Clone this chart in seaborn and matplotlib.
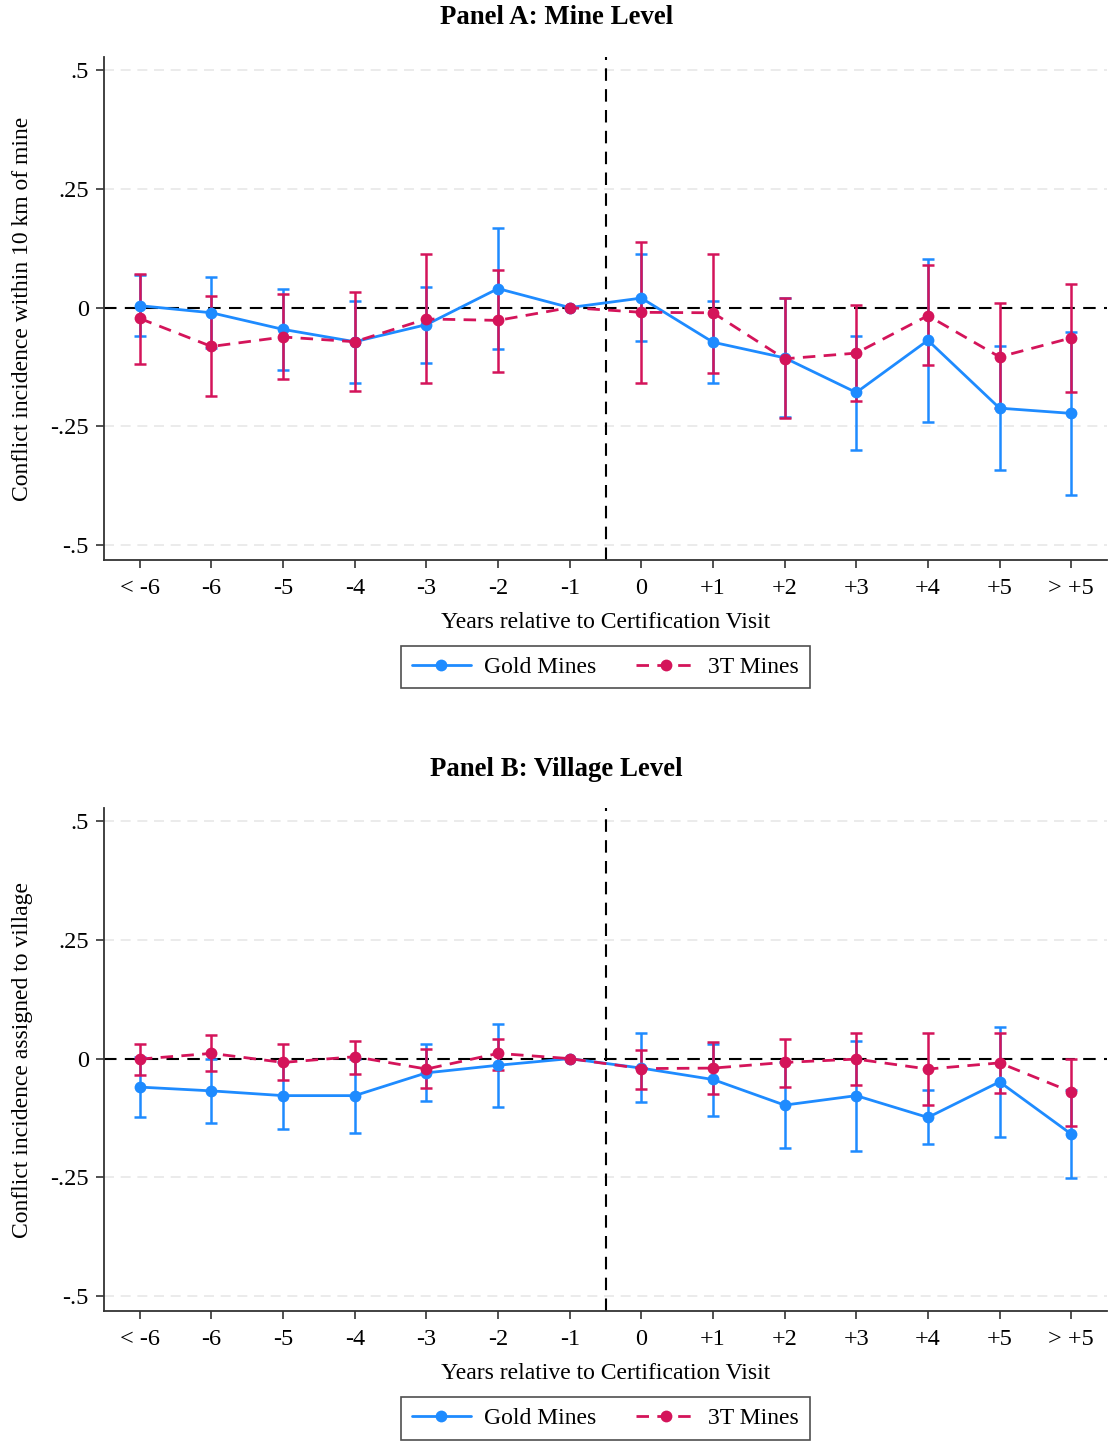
import numpy as np
import pandas as pd
import matplotlib
matplotlib.use("Agg")
import matplotlib.pyplot as plt
import seaborn as sns

# ---------------------------
# Data
# ---------------------------
periods = ["< -6", "-6", "-5", "-4", "-3", "-2", "-1",
           "0", "+1", "+2", "+3", "+4", "+5", "> +5"]

# Panel A: mine level
gold_a = [0.004, -0.011, -0.046, -0.072, -0.036, 0.040, 0.0,
          0.020, -0.073, -0.106, -0.179, -0.069, -0.212, -0.223]
gold_a_lo = [-0.060, -0.086, -0.132, -0.158, -0.116, -0.087, np.nan,
             -0.071, -0.158, -0.230, -0.300, -0.241, -0.342, -0.395]
gold_a_hi = [0.068, 0.064, 0.039, 0.013, 0.044, 0.167, np.nan,
             0.113, 0.013, 0.020, -0.059, 0.102, -0.081, -0.052]

t3_a = [-0.023, -0.082, -0.062, -0.072, -0.024, -0.027, 0.0,
        -0.010, -0.011, -0.108, -0.096, -0.017, -0.104, -0.064]
t3_a_lo = [-0.118, -0.186, -0.151, -0.176, -0.160, -0.135, np.nan,
           -0.158, -0.137, -0.233, -0.197, -0.122, -0.212, -0.177]
t3_a_hi = [0.071, 0.024, 0.028, 0.032, 0.113, 0.080, np.nan,
           0.139, 0.113, 0.021, 0.006, 0.089, 0.010, 0.050]

# Panel B: village level
gold_b = [-0.060, -0.068, -0.078, -0.078, -0.030, -0.014, 0.0,
          -0.020, -0.044, -0.098, -0.078, -0.124, -0.049, -0.159]
gold_b_lo = [-0.124, -0.136, -0.148, -0.157, -0.089, -0.103, np.nan,
             -0.092, -0.120, -0.189, -0.194, -0.181, -0.165, -0.252]
gold_b_hi = [0.004, 0.000, -0.008, 0.000, 0.030, 0.074, np.nan,
             0.054, 0.031, -0.007, 0.038, -0.067, 0.067, -0.066]

t3_b = [-0.001, 0.011, -0.008, 0.004, -0.022, 0.011, 0.0,
        -0.021, -0.020, -0.008, -0.001, -0.022, -0.009, -0.070]
t3_b_lo = [-0.034, -0.027, -0.046, -0.032, -0.062, -0.025, np.nan,
           -0.064, -0.074, -0.060, -0.056, -0.097, -0.072, -0.141]
t3_b_hi = [0.030, 0.049, 0.030, 0.038, 0.020, 0.042, np.nan,
           0.019, 0.035, 0.042, 0.054, 0.053, 0.054, 0.000]

yticks = [0.5, 0.25, 0, -0.25, -0.5]
ytick_labels = [".5", ".25", "0", "-.25", "-.5"]

BLUE = "#1E8BFF"
RED = "#D4145A"

sns.set_theme(style="white")
plt.rcParams["font.family"] = ["Liberation Serif", "DejaVu Serif"]
plt.rcParams["text.color"] = "black"
plt.rcParams["axes.labelcolor"] = "black"
plt.rcParams["xtick.color"] = "black"
plt.rcParams["ytick.color"] = "black"


def build_frame(gold, gold_lo, gold_hi, t3, t3_lo, t3_hi):
    pos = np.arange(len(periods))
    d1 = pd.DataFrame({"pos": pos, "coef": gold, "lo": gold_lo, "hi": gold_hi,
                       "group": "Gold Mines"})
    d2 = pd.DataFrame({"pos": pos, "coef": t3, "lo": t3_lo, "hi": t3_hi,
                       "group": "3T Mines"})
    return pd.concat([d1, d2], ignore_index=True)


def draw_panel(ax, df, ylabel):
    palette = {"Gold Mines": BLUE, "3T Mines": RED}

    # reference lines
    ax.axhline(0, color="black", lw=1.5, ls=(0, (6, 4)), zorder=1)
    ax.axvline(6.5, color="black", lw=1.5, ls=(0, (6, 4)), zorder=1)
    for yv in [0.5, 0.25, -0.25, -0.5]:
        ax.axhline(yv, color="#e8e8e8", lw=1.2, ls=(0, (6, 4)), zorder=0)

    # confidence intervals
    for grp in ["Gold Mines", "3T Mines"]:
        sub = df[df["group"] == grp].dropna()
        ax.errorbar(sub["pos"], sub["coef"],
                    yerr=[sub["coef"] - sub["lo"], sub["hi"] - sub["coef"]],
                    fmt="none", ecolor=palette[grp], elinewidth=1.8,
                    capsize=4.5, capthick=1.8, zorder=3)

    sns.lineplot(data=df, x="pos", y="coef", hue="group", style="group",
                 palette=palette, markers={"Gold Mines": "o", "3T Mines": "o"},
                 dashes={"Gold Mines": "", "3T Mines": (4.5, 3)},
                 markersize=8.5, markeredgewidth=0, linewidth=2,
                 hue_order=["Gold Mines", "3T Mines"], ax=ax, zorder=4)

    ax.set_xlim(-0.5, 13.5)
    ax.set_ylim(-0.532, 0.528)
    ax.set_xticks(range(len(periods)))
    ax.set_xticklabels(periods, fontsize=17.5)
    ax.set_yticks(yticks)
    ax.set_yticklabels(ytick_labels, fontsize=17.5)
    ax.tick_params(axis="both", which="both", length=6, width=1.2,
                   color="#333333", bottom=True, left=True)
    ax.tick_params(axis="x", pad=7)
    ax.tick_params(axis="y", pad=5)
    ax.set_xlabel("Years relative to Certification Visit", fontsize=17, labelpad=9)
    ax.set_ylabel(ylabel, fontsize=17, labelpad=12)

    sns.despine(ax=ax)
    for s in ["left", "bottom"]:
        ax.spines[s].set_color("#333333")
        ax.spines[s].set_linewidth(1.3)

    handles, labels = ax.get_legend_handles_labels()
    ax.legend(handles, labels, loc="center", bbox_to_anchor=(0.5, -0.213),
              ncol=2, fontsize=17, frameon=True, fancybox=False,
              edgecolor="#222222", handlelength=2.5, columnspacing=1.7,
              borderpad=0.45, handletextpad=0.55)
    ax.get_legend().get_frame().set_linewidth(1.2)


fig = plt.figure(figsize=(11.09, 14.41), dpi=100)
ax_a = fig.add_axes([0.0938, 0.6114, 0.9044, 0.3490])
ax_b = fig.add_axes([0.0938, 0.0902, 0.9044, 0.3490])

df_a = build_frame(gold_a, gold_a_lo, gold_a_hi, t3_a, t3_a_lo, t3_a_hi)
df_b = build_frame(gold_b, gold_b_lo, gold_b_hi, t3_b, t3_b_lo, t3_b_hi)

draw_panel(ax_a, df_a, "Conflict incidence within 10 km of mine")
draw_panel(ax_b, df_b, "Conflict incidence assigned to village")

# panel titles are centred on the figure, not the axes
fig.text(0.5015, 1 - 18 / 1441, "Panel A: Mine Level", ha="center", va="center",
         fontsize=19.3, fontweight="bold")
fig.text(0.5015, 1 - 769 / 1441, "Panel B: Village Level", ha="center", va="center",
         fontsize=19.3, fontweight="bold")

fig.savefig("out.png", dpi=100)
